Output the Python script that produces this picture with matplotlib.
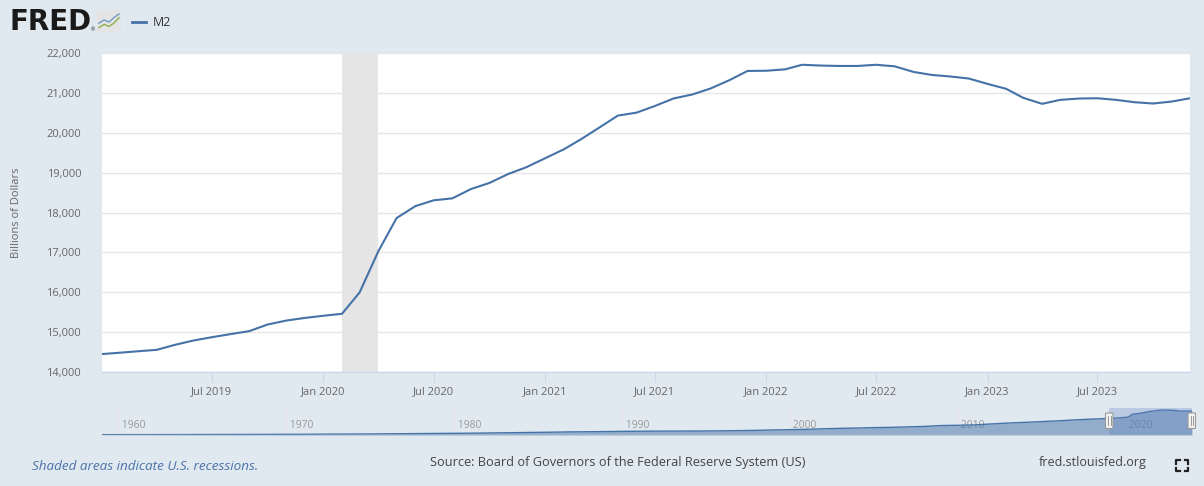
import matplotlib
matplotlib.use("Agg")
import matplotlib.pyplot as plt
import matplotlib.dates as mdates
from matplotlib.patches import FancyBboxPatch
from matplotlib.lines import Line2D
import matplotlib.transforms as mtransforms
import datetime as dt

# ---------------- data ----------------
start_year, start_month = 2019, 1
m2_values = [
    14450, 14485, 14520, 14555, 14680, 14790, 14872, 14950, 15025, 15190, 15290, 15355,   # 2019
    15410, 15460, 15995, 17030, 17860, 18160, 18305, 18355, 18590, 18740, 18965, 19135,   # 2020
    19360, 19585, 19835, 20135, 20430, 20505, 20670, 20860, 20960, 21110, 21318, 21550,   # 2021
    21555, 21590, 21705, 21685, 21675, 21675, 21705, 21665, 21525, 21450, 21410, 21360,   # 2022
    21225, 21100, 20875, 20725, 20825, 20858, 20865, 20825, 20765, 20733, 20783, 20865,   # 2023
]
# long history (annual, January) for the navigator
hist_years = list(range(1959, 2019))
hist_values = [
    286, 298, 312, 335, 363, 393, 425, 459, 481, 525, 567, 589, 628, 710, 802, 856,
    906, 1016, 1152, 1270, 1367, 1474, 1600, 1757, 1910, 2126, 2310, 2495, 2732, 2832,
    2994, 3161, 3279, 3380, 3409, 3440, 3492, 3639, 3827, 4045, 4395, 4652, 4936, 5453,
    5802, 6068, 6422, 6682, 7071, 7487, 8256, 8476, 8803, 9661, 10442, 11035, 11701,
    12360, 13220, 13860,
]
recession_start = dt.date(2020, 2, 1)
recession_end = dt.date(2020, 4, 1)
y_ticks = [14000, 15000, 16000, 17000, 18000, 19000, 20000, 21000, 22000]
x_tick_dates = [dt.date(2019, 7, 1), dt.date(2020, 1, 1), dt.date(2020, 7, 1),
                dt.date(2021, 1, 1), dt.date(2021, 7, 1), dt.date(2022, 1, 1),
                dt.date(2022, 7, 1), dt.date(2023, 1, 1), dt.date(2023, 7, 1)]
nav_years = [1960, 1970, 1980, 1990, 2000, 2010, 2020]

m2_dates = []
for i in range(len(m2_values)):
    y = start_year + (start_month - 1 + i) // 12
    m = (start_month - 1 + i) % 12 + 1
    m2_dates.append(dt.date(y, m, 1))
hist_dates = [dt.date(y, 1, 1) for y in hist_years]

# ---------------- figure ----------------
W, H = 1204, 486
BG = "#e1e9f0"
LINE = "#4572a7"
plt.rcParams["font.family"] = ["Open Sans", "DejaVu Sans"]

fig = plt.figure(figsize=(W / 100, H / 100), dpi=100, facecolor=BG)

def rect(l, t, r, b):
    return [l / W, 1 - b / H, (r - l) / W, (b - t) / H]

ax = fig.add_axes(rect(102, 53, 1190, 372))
ax.set_facecolor("white")
ax.axvspan(recession_start, recession_end, color="#e5e5e5", zorder=2, lw=0)
ax.plot(m2_dates, m2_values, color=LINE, lw=1.5, zorder=3, solid_joinstyle="round")
ax.set_xlim(m2_dates[0], m2_dates[-1])
ax.set_ylim(14000, 22000)
ax.set_yticks(y_ticks)
ax.set_yticklabels([f"{v:,}" for v in y_ticks])
ax.set_xticks(x_tick_dates)
ax.set_xticklabels([d.strftime("%b %Y") for d in x_tick_dates])
ax.grid(axis="y", color="#e6e6e6", lw=1, zorder=1)
ax.set_axisbelow(True)
for s in ["top", "right", "left"]:
    ax.spines[s].set_visible(False)
ax.spines["bottom"].set_color("#ccd6eb")
ax.spines["bottom"].set_linewidth(1)
ax.tick_params(axis="y", length=0, pad=15, labelsize=8, labelcolor="#666666")
ax.tick_params(axis="x", length=7, width=0.8, color="#ccd6eb", pad=3,
               labelsize=8, labelcolor="#666666")
ax.set_ylabel("Billions of Dollars", fontsize=8, color="#666666", labelpad=14)
ax.yaxis.set_label_coords(-80 / (1190 - 102), 0.5)

# ---------------- navigator ----------------
nav = fig.add_axes(rect(102, 408, 1192, 435))
nav.set_facecolor("none")
nd = hist_dates + m2_dates
nv = hist_values + m2_values
nav.fill_between(nd, nv, 0, color=LINE, alpha=0.5, lw=0, zorder=2)
nav.plot(nd, nv, color=LINE, lw=1, zorder=3)
nav.set_xlim(dt.date(1959, 1, 1), m2_dates[-1])
nav.set_ylim(0, 23500)
for s in nav.spines.values():
    s.set_visible(False)
nav.set_xticks([]); nav.set_yticks([])
trans = mtransforms.blended_transform_factory(nav.transData, nav.transAxes)
for yr in nav_years:
    d = dt.date(yr, 1, 1)
    nav.axvline(d, color="#e6e6e6", lw=0.8, zorder=1)
    nav.text(mdates.date2num(d), 0.36, f" {yr}", transform=trans, fontsize=7.5,
             color="#999999", ha="left", va="center", zorder=1.5)
nav.axhline(1, color="#cccccc", lw=1, zorder=4)
nav.axvspan(m2_dates[0], m2_dates[-1], color=(102 / 255, 133 / 255, 194 / 255),
            alpha=0.3, lw=0, zorder=4)
for d in [m2_dates[0], m2_dates[-1]]:
    x0 = mdates.date2num(d)
    px, _ = nav.transData.transform((x0, 0))
    hx0 = (px - 4) / W
    r = FancyBboxPatch((hx0, 1 - 428.5 / H), 7.5 / W, 15.5 / H,
                       boxstyle="round,pad=0,rounding_size=0.001",
                       transform=fig.transFigure, facecolor="#f2f2f2",
                       edgecolor="#999999", lw=0.8, zorder=10)
    fig.patches.append(r)
    for off in (-1.2, 1.2):
        fig.lines.append(Line2D([(px + off) / W] * 2, [1 - 425 / H, 1 - 416 / H],
                                transform=fig.transFigure, color="#999999", lw=0.7, zorder=11))

# ---------------- header ----------------
fig.text(9 / W, 1 - 21.5 / H, "FRED", fontsize=20, fontweight="bold",
         family=["DejaVu Sans"], color="#1a1a1a", ha="left", va="center")
fig.text(91 / W, 1 - 30 / H, "®", fontsize=3.5, color="#1a1a1a", ha="left", va="center")
icon = fig.add_axes(rect(97, 10, 121, 32))
icon.set_facecolor("#e4e4e4")
for s in icon.spines.values():
    s.set_visible(False)
icon.set_xticks([]); icon.set_yticks([])
icon.set_xlim(0, 1); icon.set_ylim(0, 1)
icon.plot([0.08, 0.3, 0.5, 0.7, 0.92], [0.4, 0.55, 0.45, 0.65, 0.82], color="#6f9ac8", lw=1)
icon.plot([0.08, 0.3, 0.5, 0.7, 0.92], [0.2, 0.35, 0.25, 0.4, 0.65], color="#8ab04a", lw=1)
fig.lines.append(Line2D([132 / W, 146 / W], [1 - 22 / H] * 2, transform=fig.transFigure,
                        color=LINE, lw=2))
fig.text(153 / W, 1 - 22 / H, "M2", fontsize=9, color="#333333", ha="left", va="center")

# ---------------- footer ----------------
fig.text(32 / W, 1 - 466 / H, "Shaded areas indicate U.S. recessions.", fontsize=9.7,
         style="italic", color="#4a72a8", ha="left", va="center")
fig.text(618 / W, 1 - 462 / H, "Source: Board of Governors of the Federal Reserve System (US)",
         fontsize=9.2, color="#444444", ha="center", va="center")
fig.text(1093 / W, 1 - 462 / H, "fred.stlouisfed.org", fontsize=9, color="#444444",
         ha="center", va="center")
cx0, cy0, cx1, cy1, L = 1176, 460, 1188, 471, 3.5
for (x, y, dx, dy) in [(cx0, cy0, 1, 1), (cx1, cy0, -1, 1), (cx0, cy1, 1, -1), (cx1, cy1, -1, -1)]:
    fig.lines.append(Line2D([x / W, x / W, (x + dx * L) / W],
                            [1 - (y + dy * L) / H, 1 - y / H, 1 - y / H],
                            transform=fig.transFigure, color="#222222", lw=1.6))

fig.savefig("out.png", dpi=100, facecolor=BG)
